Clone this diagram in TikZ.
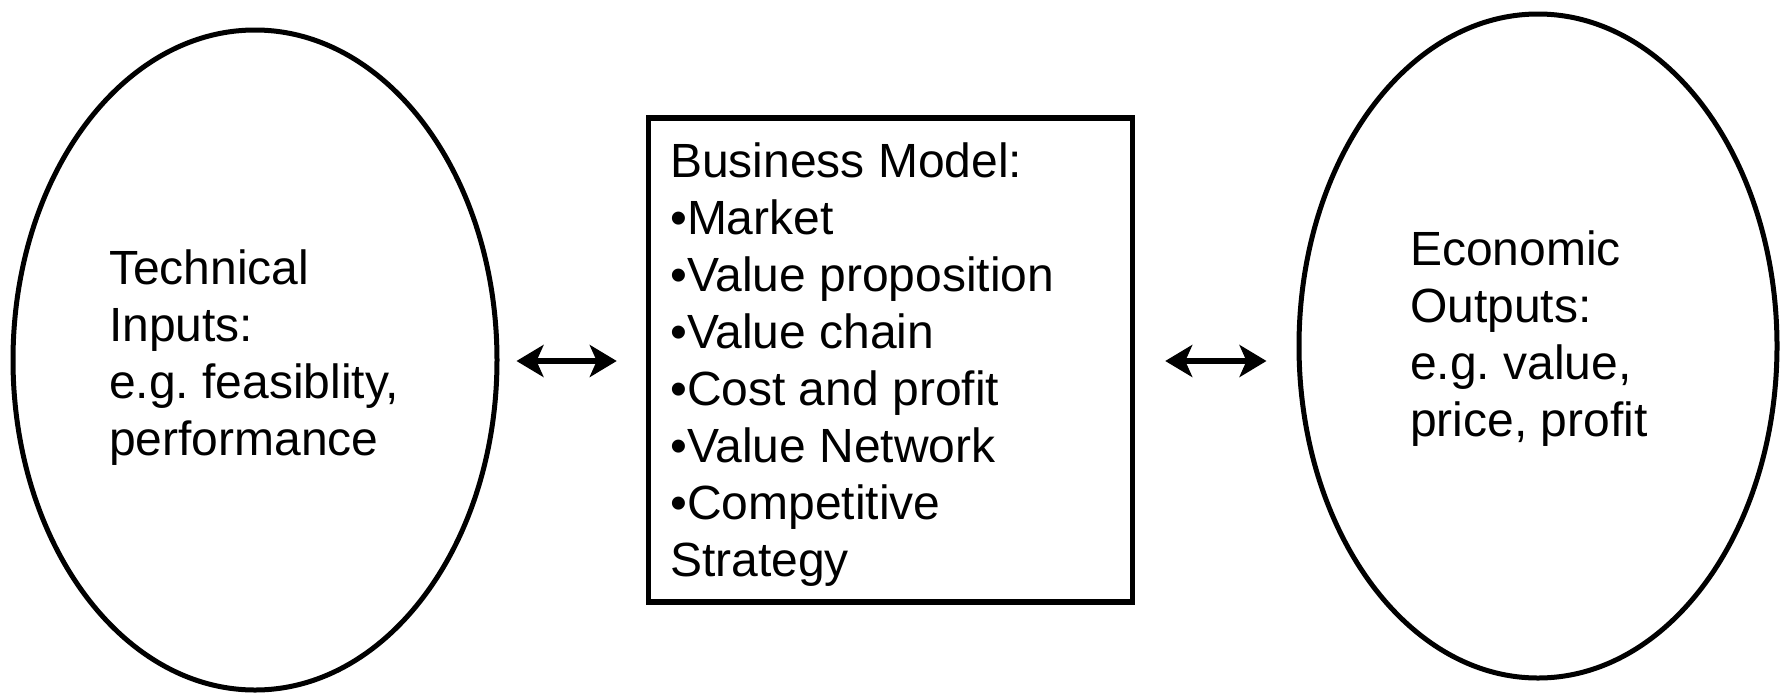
\documentclass[tikz,border=0pt]{standalone}
\usepackage{fontspec}
\setmainfont{Liberation Sans}
\usetikzlibrary{shapes.geometric,arrows.meta}
\begin{document}
\frenchspacing
\begin{tikzpicture}[x=1pt,y=1pt,
  oval/.style={draw,ellipse,line width=5pt,inner sep=0pt},
  frame/.style={draw,rectangle,line width=5.5pt,inner sep=0pt},
  txt/.style={anchor=north west,align=left,inner sep=0pt,font=\fontsize{48}{57}\selectfont},
  twoway/.style={line width=6.5pt,{Stealth[length=27pt,width=32pt,inset=7pt]}-{Stealth[length=27pt,width=32pt,inset=7pt]}}]
\useasboundingbox (0,0) rectangle (1780,-694);
\node[oval,minimum width=484pt,minimum height=660pt] (left) at (255,-360) {};
\node[oval,minimum width=478pt,minimum height=664pt] (right) at (1538,-346) {};
\node[frame,minimum width=484pt,minimum height=484pt] (box) at (890.5,-360) {};
\node[txt] (lt) at (109,-250) {Technical\\Inputs:\\e.g. feasiblity,\\performance};
\node[txt] (rt) at (1410,-231) {Economic\\Outputs:\\e.g. value,\\price, profit};
\node[txt] (bt) at (670,-143) {Business Model:\\•Market\\•Value proposition\\•Value chain\\•Cost and profit\\•Value Network\\•Competitive\\Strategy};
\coordinate (a1) at ([xshift=17pt,yshift=-1pt]left.east);
\coordinate (a2) at ([xshift=-29pt]box.west |- a1);
\coordinate (b1) at ([xshift=30pt]box.east |- a1);
\coordinate (b2) at ([xshift=-30pt]right.west |- a1);
\draw[twoway] (a1) -- (a2);
\draw[twoway] (b1) -- (b2);
\end{tikzpicture}
\end{document}
